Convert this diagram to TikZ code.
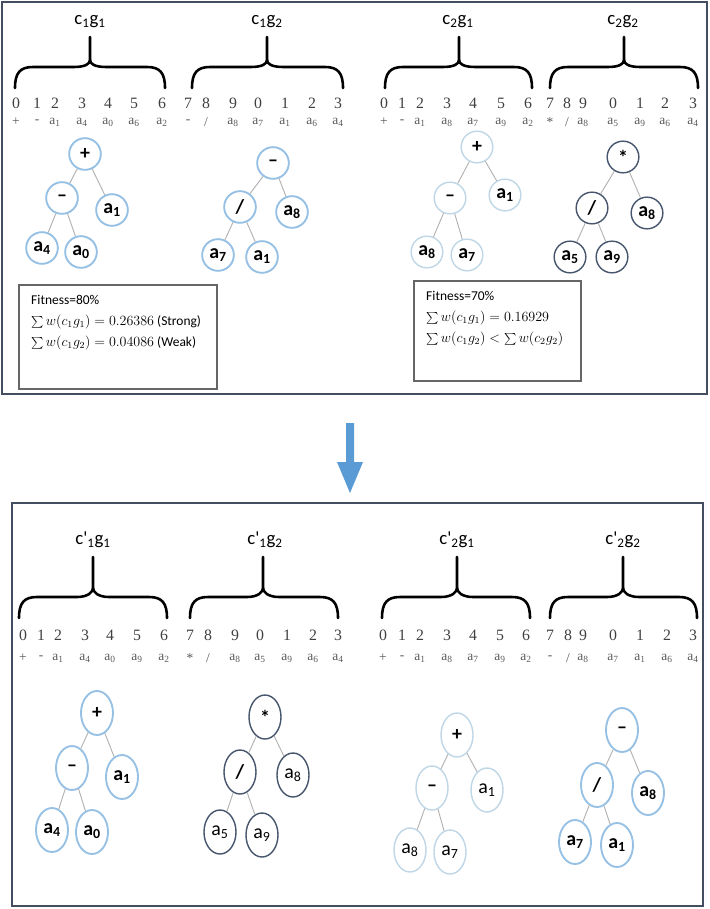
\documentclass[tikz,border=0pt]{standalone}
\usepackage{fontspec}
\setmainfont{Liberation Serif}
\newfontfamily\calib{Carlito}
\usetikzlibrary{positioning, shapes.geometric}
\definecolor{treeblue}{RGB}{150,192,228}
\definecolor{treepale}{RGB}{190,214,230}
\definecolor{treedark}{RGB}{70,86,108}
\definecolor{panelline}{RGB}{68,78,98}
\definecolor{arrowblue}{RGB}{91,155,213}
\newcommand{\ga}[1]{a\textsubscript{#1}}
\newcommand{\gsl}{/}
% brace over one gene: x1, xmid, x2, ytip, ycusp, yline, yend
\newcommand{\genebrace}[7]{%
  \draw[gbrace] (#1,#7) .. controls (#1,#6+6) and (#1+5,#6) .. (#1+18,#6) -- (#2-16,#6) .. controls (#2-5,#6) and (#2,#5+4) .. (#2,#5) -- (#2,#4);
  \draw[gbrace] (#3,#7) .. controls (#3,#6+6) and (#3-5,#6) .. (#3-18,#6) -- (#2+16,#6) .. controls (#2+5,#6) and (#2,#5+4) .. (#2,#5);}

\begin{document}
\begin{tikzpicture}[x=0.03cm, y=-0.03cm]
		\tikzstyle{gbrace} = [line width=2.2pt, black, line cap=round]
		\tikzstyle{glabel} = [inner sep=0, font=\calib\fontsize{16}{16}\selectfont]
		\tikzstyle{digit} = [inner sep=0, text=black!75, font=\fontsize{13.5}{13.5}\selectfont]
		\tikzstyle{sym} = [inner sep=0, text=black!65, font=\fontsize{11.5}{11.5}\selectfont]
		\tikzstyle{tnode} = [circle, draw=treeblue, line width=1.6pt, minimum size=0.95cm, inner sep=0, font=\calib\fontsize{17}{17}\selectfont\bfseries]
		\tikzstyle{enode} = [ellipse, draw=treeblue, line width=1.6pt, minimum width=0.96cm, minimum height=1.32cm, inner sep=0, font=\calib\fontsize{17}{17}\selectfont\bfseries]
		\tikzstyle{dark} = [draw=treedark, line width=1.2pt]
		\tikzstyle{pale} = [draw=treepale, line width=1.2pt]
		\tikzstyle{light} = [font=\calib\fontsize{17}{17}\selectfont]
		\tikzstyle{edge} = [draw=black!30, line width=0.8pt]
		\tikzstyle{panel} = [draw=panelline, line width=1.2pt]
		\tikzstyle{fitbox} = [draw=black!60, line width=1.2pt]
		\tikzstyle{fittext} = [anchor=north west, inner sep=0, align=left, font=\calib\fontsize{11.5}{18}\selectfont]
		\useasboundingbox (0,0) rectangle (709,909);
		% parents
		\draw [panel] (2,2) rectangle (707,394);
		\node [glabel] (l11) at (90,22) {c\textsubscript{1}g\textsubscript{1}};
		\node [glabel] (l12) at (267,22) {c\textsubscript{1}g\textsubscript{2}};
		\node [glabel] (l21) at (458,22) {c\textsubscript{2}g\textsubscript{1}};
		\node [glabel] (l22) at (623,22) {c\textsubscript{2}g\textsubscript{2}};
		\genebrace{15}{90}{165}{37}{60}{67}{88}
		\genebrace{192}{267}{343}{37}{60}{67}{88}
		\genebrace{385}{459}{532}{37}{60}{67}{88}
		\genebrace{550}{624}{698}{37}{60}{67}{88}
		\foreach \x/\d/\s [count=\i] in {16/0/+, 37/1/-, 55/2/\ga1, 82/3/\ga4, 108/4/\ga0, 134/5/\ga6, 162/6/\ga2, 188/7/-, 206/8/\gsl, 233/9/\ga8, 258/0/\ga7, 285/1/\ga1, 312/2/\ga6, 338/3/\ga4} {
			\node [digit] (pd1-\i) at (\x,103) {\d};
			\node [sym] (ps1-\i) at (\x,122) {\s};
		}
		\foreach \x/\d/\s [count=\i] in {384/0/+, 402/1/-, 420/2/\ga1, 447/3/\ga8, 473/4/\ga7, 501/5/\ga9, 528/6/\ga2, 550/7/*, 567/8/\gsl, 583/9/\ga8, 613/0/\ga5, 640/1/\ga9, 665/2/\ga6, 693/3/\ga4} {
			\node [digit] (pd2-\i) at (\x,103) {\d};
			\node [sym] (ps2-\i) at (\x,122) {\s};
		}
		\node [tnode] (A0) at (85,154) {+};
		\node [tnode] (A1) at (62,198) {\textendash};
		\node [tnode] (A2) at (112,210) {\ga1};
		\node [tnode] (A3) at (42,248) {\ga4};
		\node [tnode] (A4) at (81,252) {\ga0};
		\node [tnode] (B0) at (273,163) {\textendash};
		\node [tnode] (B1) at (240,207) {/};
		\node [tnode] (B2) at (292,212) {\ga8};
		\node [tnode] (B3) at (218,255) {\ga7};
		\node [tnode] (B4) at (262,257) {\ga1};
		\node [tnode,pale] (C0) at (477,147) {+};
		\node [tnode,pale] (C1) at (450,198) {\textendash};
		\node [tnode,pale] (C2) at (505,195) {\ga1};
		\node [tnode,pale] (C3) at (427,252) {\ga8};
		\node [tnode,pale] (C4) at (467,255) {\ga7};
		\node [tnode,dark] (D0) at (623,157) {*};
		\node [tnode,dark] (D1) at (592,208) {/};
		\node [tnode,dark] (D2) at (647,213) {\ga8};
		\node [tnode,dark] (D3) at (570,257) {\ga5};
		\node [tnode,dark] (D4) at (612,257) {\ga9};
		\draw [fitbox] (19,285) rectangle (217,389);
		\node [fittext] (fit1) at (31,295) {Fitness=80\%\\
			$\sum w(c_1g_1) = 0.26386$ (Strong)\\
			$\sum w(c_1g_2) = 0.04086$ (Weak)};
		\draw [fitbox] (414,281) rectangle (581,381);
		\node [fittext] (fit2) at (426,291) {Fitness=70\%\\
			$\sum w(c_1g_1) = 0.16929$\\
			$\sum w(c_1g_2) < \sum w(c_2g_2)$};
		% crossover arrow
		\fill [arrowblue] (346,423) -- (354,423) -- (354,462) -- (363,462) -- (350,493) -- (337,462) -- (346,462) -- cycle;
		% children
		\draw [panel] (12,503) rectangle (703,906);
		\node [glabel] (m11) at (93,540) {c\textquotesingle\textsubscript{1}g\textsubscript{1}};
		\node [glabel] (m12) at (265,540) {c\textquotesingle\textsubscript{1}g\textsubscript{2}};
		\node [glabel] (m21) at (457,540) {c\textquotesingle\textsubscript{2}g\textsubscript{1}};
		\node [glabel] (m22) at (623,540) {c\textquotesingle\textsubscript{2}g\textsubscript{2}};
		\genebrace{19}{93}{167}{557}{588}{597}{618}
		\genebrace{190}{263}{338}{557}{588}{597}{618}
		\genebrace{382}{457}{530}{557}{588}{597}{618}
		\genebrace{550}{623}{697}{557}{588}{597}{618}
		\foreach \x/\d/\s [count=\i] in {23/0/+, 41/1/-, 58/2/\ga1, 85/3/\ga4, 110/4/\ga0, 137/5/\ga9, 164/6/\ga2, 190/7/*, 208/8/\gsl, 235/9/\ga8, 260/0/\ga5, 287/1/\ga9, 313/2/\ga6, 338/3/\ga4} {
			\node [digit] (cd1-\i) at (\x,635) {\d};
			\node [sym] (cs1-\i) at (\x,658) {\s};
		}
		\foreach \x/\d/\s [count=\i] in {383/0/+, 402/1/-, 420/2/\ga1, 447/3/\ga8, 473/4/\ga7, 500/5/\ga9, 526/6/\ga2, 550/7/-, 568/8/\gsl, 583/9/\ga8, 613/0/\ga7, 640/1/\ga1, 667/2/\ga6, 693/3/\ga4} {
			\node [digit] (cd2-\i) at (\x,635) {\d};
			\node [sym] (cs2-\i) at (\x,658) {\s};
		}
		\node [enode] (E0) at (97,713) {+};
		\node [enode] (E1) at (72,768) {\textendash};
		\node [enode] (E2) at (122,777) {\ga1};
		\node [enode] (E3) at (52,830) {\ga4};
		\node [enode] (E4) at (92,832) {\ga0};
		\node [enode,dark] (F0) at (265,717) {*};
		\node [enode,dark] (F1) at (240,772) {\textbf{/}};
		\node [enode,dark,light] (F2) at (293,775) {\ga8};
		\node [enode,dark,light] (F3) at (220,832) {\ga5};
		\node [enode,dark,light] (F4) at (262,835) {\ga9};
		\node [enode,pale] (G0) at (457,735) {+};
		\node [enode,pale] (G1) at (432,788) {\textendash};
		\node [enode,pale,light] (G2) at (487,790) {\ga1};
		\node [enode,pale,light] (G3) at (410,850) {\ga8};
		\node [enode,pale,light] (G4) at (450,852) {\ga7};
		\node [enode] (H0) at (622,730) {\textendash};
		\node [enode] (H1) at (597,785) {/};
		\node [enode] (H2) at (648,793) {\ga8};
		\node [enode] (H3) at (575,842) {\ga7};
		\node [enode] (H4) at (617,845) {\ga1};
		\foreach \t in {A,B,C,D,E,F,G,H} {
			\draw [edge] (\t0) -- (\t1);
			\draw [edge] (\t0) -- (\t2);
			\draw [edge] (\t1) -- (\t3);
			\draw [edge] (\t1) -- (\t4);
		}
\end{tikzpicture}
\end{document}
